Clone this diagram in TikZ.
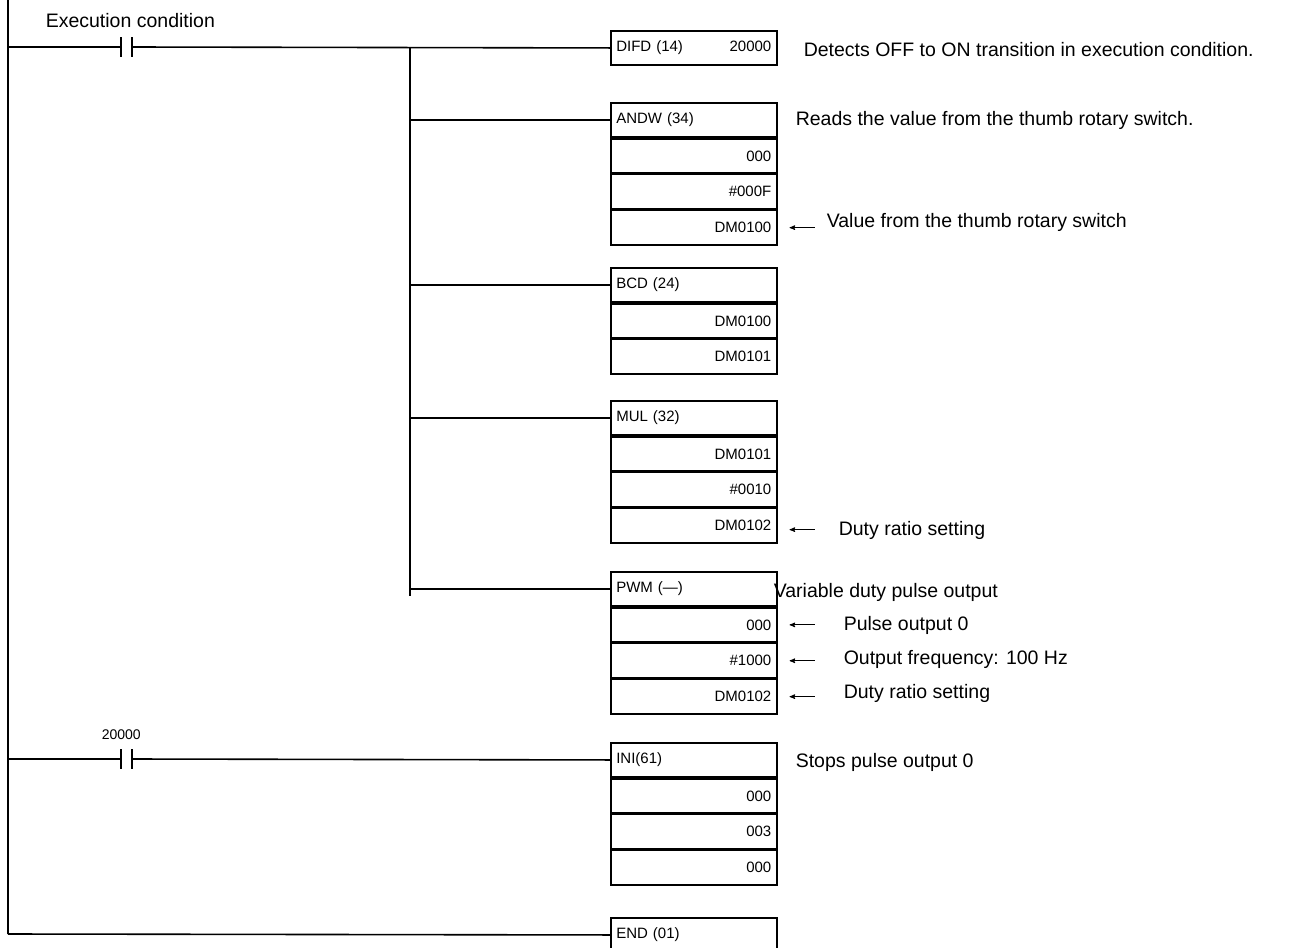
\documentclass[tikz,border=0pt]{standalone}
\usepackage{fontspec}
\setmainfont{Liberation Sans}
\usetikzlibrary{arrows}

\begin{document}
\begin{tikzpicture}[x=1pt,y=-1pt,line width=1.6pt,>=stealth']
    \tikzstyle{cell}=[draw, minimum width=166pt, minimum height=34.3pt, inner sep=4pt, font=\fontsize{15}{18}\selectfont]
    \tikzstyle{head}=[style=cell, text width=155pt, align=left]
    \tikzstyle{arg}=[style=cell, text width=155pt, align=right]
    \tikzstyle{note}=[anchor=west, inner sep=0pt, font=\fontsize{19.5}{22}\selectfont]
    \tikzstyle{ptr}=[<-, line width=1pt]
    \useasboundingbox (0,0) rectangle (1315,948);

    % rails and contacts
    \coordinate (top) at (8,0);
    \coordinate (bot) at (8,934);
    \draw (top) -- (bot);
    \node[note] (exec) at (45,21) {Execution condition};
    \node[note, font=\fontsize{14}{16}\selectfont] (cnt) at (101,735) {20000};
    \foreach \y/\n in {47/c1, 759/c2} {
      \coordinate (\n l) at (121,\y);
      \coordinate (\n r) at (132,\y);
      \draw (\n l) ++(0,-10) -- ++(0,20);
      \draw (\n r) ++(0,-10) -- ++(0,20);
      \draw (8,\y) -- (\n l);
    }
    \coordinate (br0) at (410,47);
    \coordinate (br1) at (410,596);

    % instruction boxes
    \node[cell, anchor=north west, text width=155pt, align=left] (difd) at (610,30)
      {DIFD (14)\hfill 20000};
    \foreach \n/\t/\a/\b/\c/\w in {andw/102/ANDW (34)/000/\#000F/DM0100,
                              mul/400/MUL (32)/DM0101/\#0010/DM0102,
                              pwm/571/PWM (---)/000/\#1000/DM0102,
                              ini/742/INI(61)/000/003/000} {
      \node[head, anchor=north west] (\n0) at (610,\t) {\a};
      \node[arg, anchor=north] (\n1) at (\n0.south) {\b};
      \node[arg, anchor=north] (\n2) at (\n1.south) {\c};
      \node[arg, anchor=north] (\n3) at (\n2.south) {\w};
    }
    \node[head, anchor=north west] (bcd0) at (610,267) {BCD (24)};
    \node[arg, anchor=north] (bcd1) at (bcd0.south) {DM0100};
    \node[arg, anchor=north] (bcd2) at (bcd1.south) {DM0101};
    \node[head, anchor=north west] (end) at (610,917) {END (01)};

    % rungs
    \draw (c1r) -- (difd.west);
    \draw (br0) -- (br1);
    \foreach \n in {andw0, bcd0, mul0, pwm0}
      \draw (br0 |- \n.west) -- (\n.west);
    \draw (c2r) -- (ini0.west);
    \draw (bot) -- (end.west);

    % notes
    \node[note] (n1) at (803,50) {Detects OFF to ON transition in execution condition.};
    \node[note] (n2) at (795,120) {Reads the value from the thumb rotary switch.};
    \node[note] (n3) at (826,222) {Value from the thumb rotary switch};
    \node[note] (n4) at (838,530) {Duty ratio setting};
    \node[note] (n5) at (773,592) {Variable duty pulse output};
    \node[note] (n6) at (843,625) {Pulse output 0};
    \node[note] (n7) at (843,659) {Output frequency: 100 Hz};
    \node[note] (n8) at (843,693) {Duty ratio setting};
    \node[note] (n9) at (795,762) {Stops pulse output 0};
    \draw[ptr] ([xshift=12pt]andw3.east) -- ++(25,0);
    \draw[ptr] ([xshift=12pt]mul3.east) ++(0,4) -- ++(25,0);
    \foreach \n in {pwm1, pwm2, pwm3}
      \draw[ptr] ([xshift=12pt]\n.east) -- ++(25,0);
\end{tikzpicture}
\end{document}
